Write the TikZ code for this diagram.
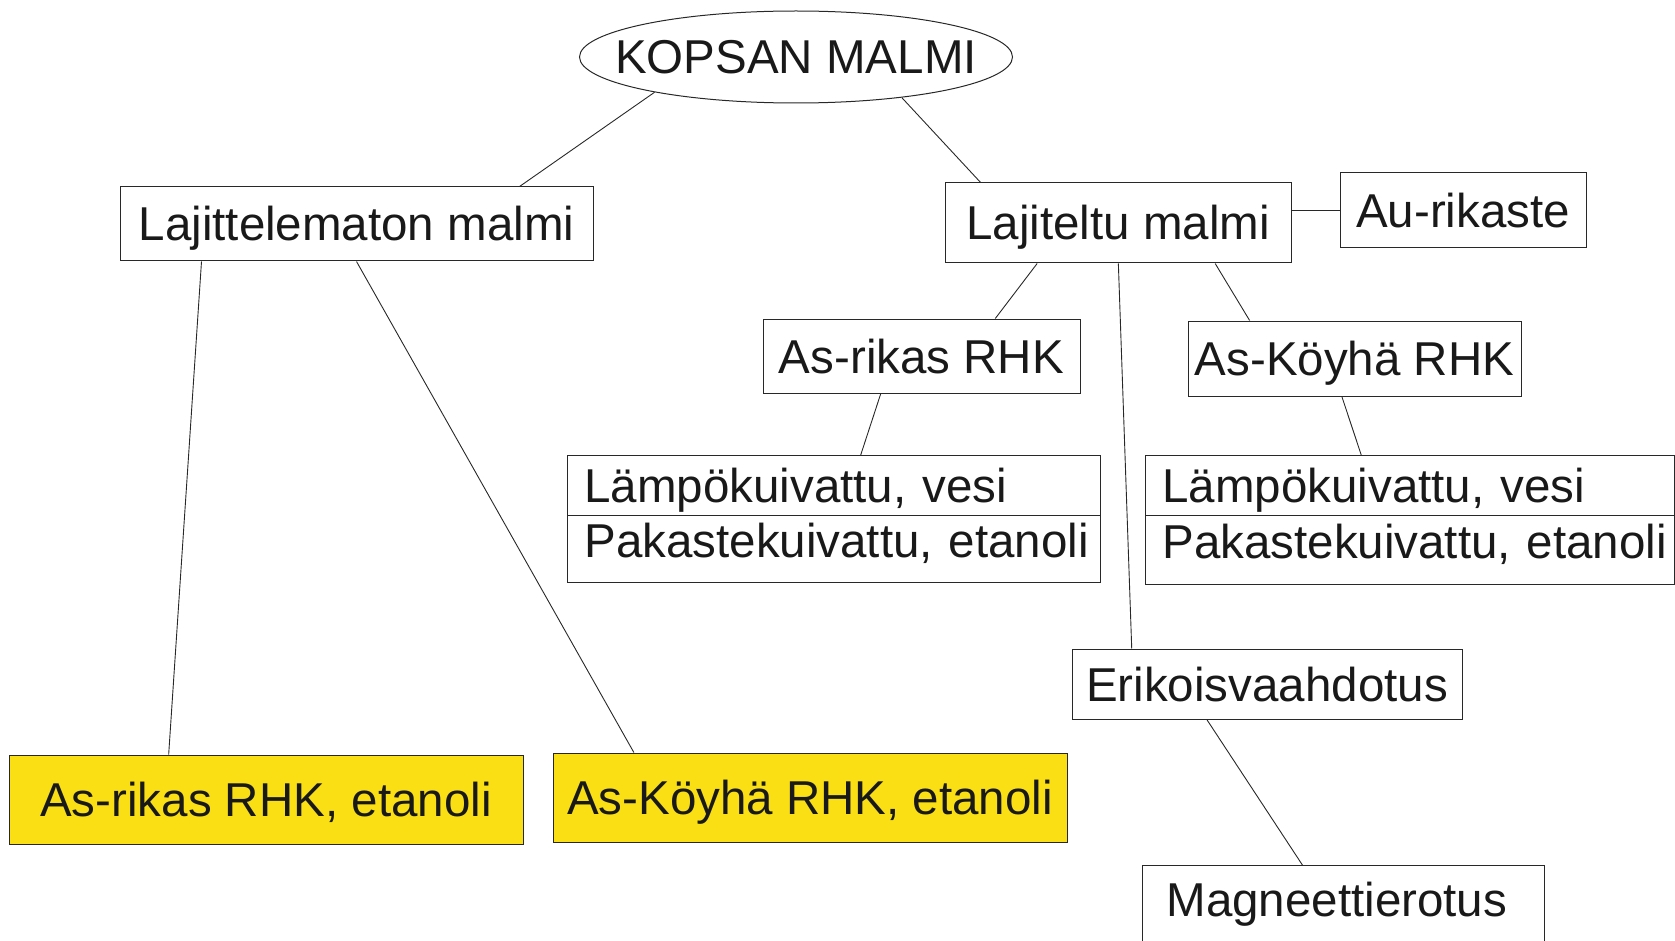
\documentclass[tikz,border=0pt]{standalone}
\usepackage{fontspec}
\setmainfont{Liberation Sans}
\usetikzlibrary{calc,shapes.geometric}
\definecolor{ylw}{RGB}{249,223,20}
\definecolor{ink}{RGB}{40,40,40}
\tikzset{
  base/.style={inner sep=0pt, font=\fontsize{47.5}{56}\selectfont, text height=34pt, text depth=0pt, text=black!90, draw=ink, line width=1pt},
  box/.style={base, rectangle},
  ybox/.style={box, fill=ylw},
  lbox/.style={box, anchor=north west, align=left, inner xsep=17pt},
  conn/.style={draw=ink, line width=0.9pt},
}
\begin{document}
\begin{tikzpicture}[x=1pt,y=-1pt]
\useasboundingbox (0,0) rectangle (1675,941);
\clip (0,0) rectangle (1675,941);
\node[base, ellipse, inner xsep=-30pt, minimum width=433pt, minimum height=92pt, text depth=-6pt] (ell) at (796,57) {KOPSAN MALMI};
\node[box, minimum width=473pt, minimum height=74pt] (lm) at (356.5,224) {Lajittelematon malmi};
\node[box, minimum width=346pt, minimum height=80pt] (lt) at (1118,223) {Lajiteltu malmi};
\node[box, minimum width=246pt, minimum height=75pt] (au) at (1463,210.5) {Au-rikaste};
\node[box, minimum width=317pt, minimum height=74pt] (ar) at (921.5,356) {As-rikas RHK};
\node[box, minimum width=333pt, minimum height=75pt] (ak) at (1354.5,358.5) {As-Köyhä RHK};
\node[lbox, minimum width=533pt, minimum height=60pt, text width=499pt] (lk1) at (567,455) {\mbox{Lämpökuivattu, vesi}};
\node[lbox, minimum width=533pt, minimum height=67pt, text width=499pt, text depth=17pt] (lk2) at (567,515) {\mbox{Pakastekuivattu, etanoli}};
\node[lbox, minimum width=529pt, minimum height=60pt, text width=495pt] (rk1) at (1145,455) {\mbox{Lämpökuivattu, vesi}};
\node[lbox, minimum width=529pt, minimum height=69pt, text width=495pt, text depth=18pt] (rk2) at (1145,515) {\mbox{Pakastekuivattu, etanoli}};
\node[box, minimum width=390pt, minimum height=70pt] (ev) at (1267,684) {Erikoisvaahdotus};
\node[box, anchor=north west, align=left, inner xsep=24pt, text width=354pt, text height=51pt, text depth=80pt] (mg) at (1142,865) {\mbox{Magneettierotus}};
\node[ybox, minimum width=514pt, minimum height=89pt] (y1) at (266,799.5) {As-rikas RHK, etanoli};
\node[ybox, minimum width=514pt, minimum height=89pt] (y2) at (810,797.5) {As-Köyhä RHK, etanoli};

\draw[conn] (ell.194) -- ($(lm.north west)!0.844!(lm.north east)$);
\draw[conn] (ell.339) -- ($(lt.north west)!0.104!(lt.north east)$);
\draw[conn] (au.west) -- (au.west -| lt.east);
\draw[conn] ($(lt.south west)!0.267!(lt.south east)$) -- ($(ar.north west)!0.732!(ar.north east)$);
\draw[conn] ($(lt.south west)!0.78!(lt.south east)$) -- ($(ak.north west)!0.186!(ak.north east)$);
\draw[conn] ($(lt.south west)!0.501!(lt.south east)$) -- ($(ev.north west)!0.154!(ev.north east)$);
\draw[conn] ($(ar.south west)!0.372!(ar.south east)$) -- ($(lk1.north west)!0.55!(lk1.north east)$);
\draw[conn] ($(ak.south west)!0.462!(ak.south east)$) -- ($(rk1.north west)!0.408!(rk1.north east)$);
\draw[conn] ($(ev.south west)!0.346!(ev.south east)$) -- ($(mg.north west)!0.398!(mg.north east)$);
\draw[conn] ($(lm.south west)!0.173!(lm.south east)$) -- ($(y1.north west)!0.311!(y1.north east)$);
\draw[conn] (lm.south) -- ($(y2.north west)!0.158!(y2.north east)$);
\end{tikzpicture}
\end{document}
